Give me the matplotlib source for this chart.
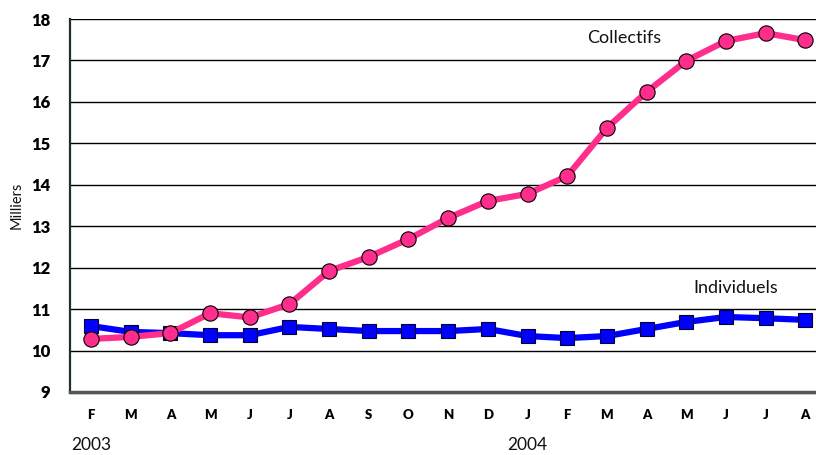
import matplotlib
matplotlib.use('Agg')
import matplotlib.pyplot as plt
import numpy as np

# ── data (milliers) ──────────────────────────────────────────────────────────
months = ['F', 'M', 'A', 'M', 'J', 'J', 'A', 'S', 'O', 'N', 'D',
          'J', 'F', 'M', 'A', 'M', 'J', 'J', 'A']
collectifs = [10.28, 10.33, 10.42, 10.90, 10.80, 11.12, 11.92, 12.26, 12.69,
              13.20, 13.61, 13.78, 14.21, 15.37, 16.24, 16.99, 17.47, 17.66, 17.49]
individuels = [10.59, 10.45, 10.42, 10.37, 10.37, 10.57, 10.52, 10.47, 10.47,
               10.47, 10.52, 10.35, 10.30, 10.35, 10.52, 10.69, 10.81, 10.78, 10.74]
years = ['2003', '2004']
year_pos = [0, 11]
yticks = [9, 10, 11, 12, 13, 14, 15, 16, 17, 18]

FONT = ['Lato', 'DejaVu Sans']
x = np.arange(len(months))

fig = plt.figure(figsize=(8.16, 4.55), dpi=100)
ax = fig.add_axes([0.0858, 0.1385, 0.9142, 0.8197])

ax.set_xlim(-0.53, 18.27)
ax.set_ylim(9, 18)
for y in yticks[1:]:
    ax.axhline(y, color='black', linewidth=1.0, zorder=1)

ax.plot(x, individuels, color='#0000FF', linewidth=4.5, marker='s',
        markersize=10.5, markerfacecolor='#0000FF', markeredgecolor='#000033',
        markeredgewidth=0.8, zorder=3, clip_on=False)
ax.plot(x, collectifs, color='#FF2D8C', linewidth=4.5, marker='o',
        markersize=11, markerfacecolor='#FF2D8C', markeredgecolor='black',
        markeredgewidth=0.8, zorder=4, clip_on=False)

ax.text(587, 455 - 38, 'Collectifs', transform=None, fontsize=13, family=FONT,
        ha='left', va='center', color='#111111')
ax.text(693, 455 - 288, 'Individuels', transform=None, fontsize=13, family=FONT,
        ha='left', va='center', color='#111111')

for s in ['top', 'right']:
    ax.spines[s].set_visible(False)
ax.spines['left'].set_color('#1F2E2E')
ax.spines['left'].set_linewidth(1.6)
ax.spines['bottom'].set_color('#555555')
ax.spines['bottom'].set_linewidth(2.5)
ax.axhline(8.985, color='#2A9A9A', linewidth=1.0, clip_on=False, zorder=0)

ax.set_yticks(yticks)
ax.set_yticklabels([str(v) for v in yticks], fontsize=12, fontweight='heavy',
                   family=FONT)
ax.set_xticks(x)
ax.set_xticklabels(months, fontsize=9.5, fontweight='heavy', family=FONT)
ax.tick_params(axis='both', length=0)
ax.tick_params(axis='y', pad=14)
ax.tick_params(axis='x', pad=12)

for yr, pos in zip(years, year_pos):
    ax.text(pos, -0.142, yr, transform=ax.get_xaxis_transform(), fontsize=12.5,
            family=FONT, ha='center', va='center', color='#111111')

fig.text(17 / 816, 1 - 205 / 455, 'Milliers', rotation=90, fontsize=10.5,
         family=FONT, ha='center', va='center', color='#111111')

fig.savefig('out.png', dpi=100, facecolor='white')
